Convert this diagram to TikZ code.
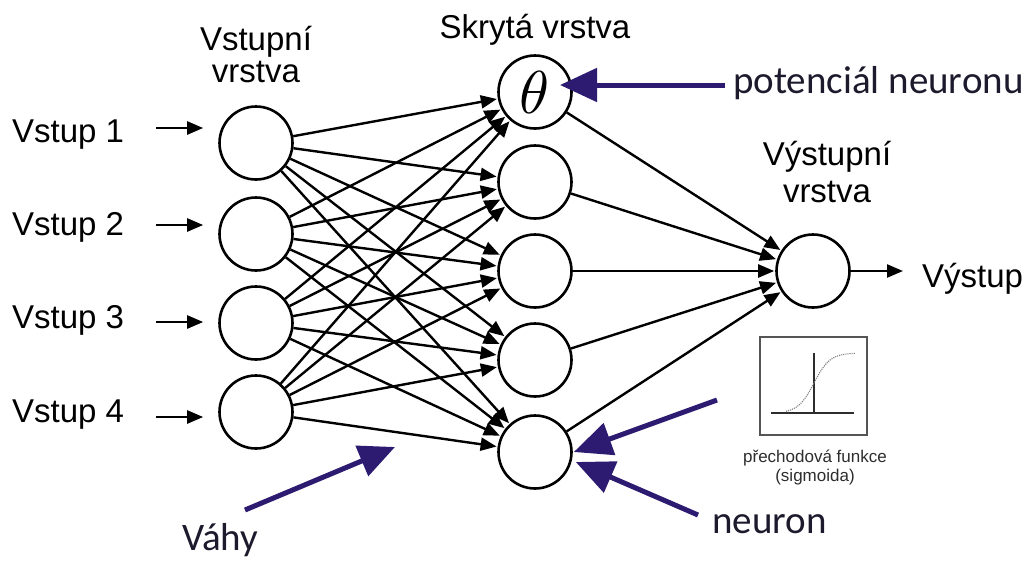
\documentclass[tikz,border=0pt]{standalone}
\usepackage{graphicx}
\usepackage{fontspec}
\setmainfont{Liberation Sans}
\newfontfamily\notefont{Carlito}
\usetikzlibrary{arrows.meta,calc}

\definecolor{pointer}{RGB}{44,27,112}
\definecolor{notetext}{RGB}{28,26,44}
\definecolor{boxgray}{RGB}{85,85,85}
\definecolor{captgray}{RGB}{45,45,45}

\begin{document}
\begin{tikzpicture}[x=1pt,y=-1pt,
  neuron/.style={circle,draw,line width=2.6pt,minimum size=73pt,inner sep=0pt,fill=white},
  lbl/.style={font=\fontsize{33}{38}\selectfont,inner sep=0pt,anchor=base},
  inlbl/.style={font=\fontsize{33}{38}\selectfont,inner sep=0pt,anchor=base west},
  wire/.style={line width=2.4pt,-{Triangle[length=16pt,width=13pt]}},
  pointerarrow/.style={draw=pointer,line width=5pt,-{Triangle[length=37pt,width=33pt]}},
  note/.style={font=\notefont\fontsize{39}{44}\selectfont,text=notetext,inner sep=0pt,anchor=base west},
  caption/.style={font=\fontsize{17}{20}\selectfont,text=captgray,inner sep=0pt,anchor=base},
]
% canvas
\fill[white] (0,0) rectangle (1031,560);
\useasboundingbox (0,0) rectangle (1031,560);

% layer titles
\node[lbl] (tin1) at (256,50) {Vstupní};
\node[lbl] (tin2) at (256,82) {vrstva};
\node[lbl] (thid) at (535,38) {Skrytá vrstva};
\node[lbl] (tout1) at (827,165) {Výstupní};
\node[lbl] (tout2) at (827,202) {vrstva};

% neurons
\foreach \k/\y in {1/143,2/234,3/323,4/412}
  \node[neuron] (i\k) at (256,\y) {};
\node[neuron] (h1) at (535,92) {\resizebox{!}{42pt}{$\theta$}};
\foreach \k/\y in {2/182,3/271,4/360,5/452}
  \node[neuron] (h\k) at (535,\y) {};
\node[neuron] (out) at (813,271) {};

% inputs
\foreach \k/\b/\dy in {1/142/14,2/235/10,3/328/6,4/422/5}{
  \node[inlbl] (v\k) at (12,\b) {Vstup \k};
  \draw[wire] ([xshift=32pt,yshift=\dy pt]v\k.base east)
      -- ([xshift=-15pt,yshift=\dy pt]v\k.base east -| i\k.west);
}

% weights: input -> hidden
\foreach \a in {1,...,4}
  \foreach \b in {1,...,5}
    \draw[wire,shorten >=1pt] (i\a) -- (h\b);

% hidden -> output
\foreach \b in {1,...,5}
  \draw[wire,shorten >=1pt] (h\b) -- (out);

% output
\node[inlbl] (vyst) at (922,287) {Výstup};
\draw[wire] (out.east) -- ([xshift=-19pt]out.east -| vyst.west);

% transfer function inset
\node[draw=boxgray,line width=1.4pt,minimum width=107pt,minimum height=98pt,inner sep=0pt] (sig) at (813.5,386) {};
\draw[captgray,line width=1.4pt] (771,413) -- (854,413);
\draw[captgray,line width=1.4pt] (814,353) -- (814,413);
\draw[gray,line width=1.1pt,densely dotted] plot[domain=786:855,samples=60,smooth] (\x,{413-60/(1+exp(-(\x-814)/8))});
\node[caption] (cap1) at (815,462) {přechodová funkce};
\node[caption] (cap2) at (815,481) {(sigmoida)};

% annotations
\node[note] (pot) at (733,93) {potenciál neuronu};
\coordinate (potstart) at (725,85);
\coordinate (pottip) at ($(h1)+(25,-7)$);
\draw[pointerarrow] (potstart) -- (pottip);

\node[note] (neu) at (712,533) {neuron};
\coordinate (neustartA) at (717,400);
\coordinate (neustartB) at (698,515);
\draw[pointerarrow,-{Triangle[length=38pt,width=33pt]}] (neustartA) -- ($(h5.east)+(1,0)$);
\draw[pointerarrow,-{Triangle[length=38pt,width=33pt]}] (neustartB) -- ($(h5.east)+(3,10)$);

\node[note] (vah) at (182,550) {Váhy};
\coordinate (vahstart) at (245,510);
\coordinate (vahtip) at (395,447);
\draw[pointerarrow,-{Triangle[length=36pt,width=32pt]}] (vahstart) -- (vahtip);
\end{tikzpicture}
\end{document}
